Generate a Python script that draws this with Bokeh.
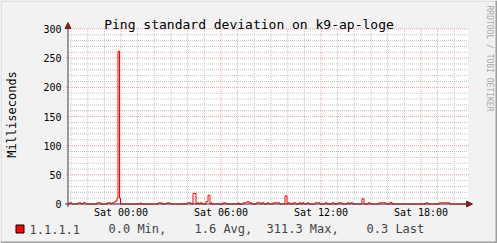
import math
from bokeh.plotting import figure
from bokeh.models import Label, Arrow, NormalHead
from bokeh.embed import file_html
from bokeh.resources import INLINE

# ---- data (hours relative to Sat 00:00, values in ms) ----
title_text = "Ping standard deviation on k9-ap-loge"
y_label = "Milliseconds"
x_tick_hours = [0, 6, 12, 18]
x_tick_labels = ["Sat 00:00", "Sat 06:00", "Sat 12:00", "Sat 18:00"]
y_ticks = [0, 50, 100, 150, 200, 250, 300]
y_tick_labels = ["0", "50", "100", "150", "200", "250", "300"]

spike_start = [-3.12, -2.58, -2.28, -1.44, -0.84, -0.54, -0.36, -0.24, -0.18, -0.09,
               1.14, 2.22, 2.76, 3.96, 4.32, 4.56, 4.74, 5.10, 5.22, 5.40,
               6.12, 7.02, 7.32, 7.56, 7.68, 8.10, 8.46, 8.76, 9.12, 9.84,
               10.02, 10.32, 10.68, 10.86, 11.16, 11.64, 12.24, 12.66, 13.02, 13.56,
               13.74, 14.46, 14.82, 15.48, 16.14, 18.30, 19.08]
spike_end = [-2.94, -2.40, -2.10, -1.20, -0.60, -0.36, -0.24, -0.18, -0.09, -0.03,
             1.20, 2.46, 2.94, 4.20, 4.50, 4.68, 4.86, 5.22, 5.34, 5.46,
             6.30, 7.08, 7.56, 7.68, 7.86, 8.40, 8.58, 8.88, 9.54, 9.96,
             10.14, 10.50, 10.80, 10.98, 11.28, 11.94, 12.36, 12.78, 13.26, 13.68,
             13.92, 14.58, 14.94, 15.90, 16.26, 18.42, 19.74]
spike_ms = [2, 2, 2, 2, 2, 2, 5, 10, 262, 10,
            2, 2, 2, 2, 18, 2, 2, 4, 15, 2,
            2, 2, 2, 4, 2, 2, 2, 2, 2, 14,
            2, 2, 2, 2, 2, 2, 2, 2, 2, 2,
            2, 9, 2, 2, 3, 2, 2]

series_name = "1.1.1.1"
stat_values = [0.0, 1.6, 311.3, 0.3]
stat_names = ["Min,", "Avg,", "Max,", "Last"]

# ---- geometry (pixels) ----
W, H = 497, 243
FL, FR, FT, FB = 67.5, 467.5, 28.5, 203.5
X0, X1 = -3.18, 20.82
Y0, Y1 = 0, 300

def dx(px):
    return X0 + (px - FL) / (FR - FL) * (X1 - X0)

def dy(py):
    return Y0 + (FB - py) / (FB - FT) * (Y1 - Y0)

# step series built from the spikes
xs, ys = [X0], [0]
for s, e, v in zip(spike_start, spike_end, spike_ms):
    if abs(xs[-1] - s) < 1e-9:
        ys[-1] = v
    else:
        xs.append(s); ys.append(v)
    xs.append(e); ys.append(0)
xs.append(X1); ys.append(0)

MONO = "DejaVu Sans Mono"
p = figure(width=W, height=H, x_range=(dx(0), dx(W)), y_range=(dy(H), dy(0)),
           output_backend="svg", toolbar_location=None, min_border=0,
           x_axis_type=None, y_axis_type=None)
p.background_fill_color = "#F2F2F2"
p.border_fill_color = "#F2F2F2"
p.outline_line_color = None
p.grid.visible = False

# outer shaded frame
p.quad(left=[dx(0), dx(0)], right=[dx(W), dx(1)], top=[dy(0), dy(0)], bottom=[dy(1), dy(H)],
       fill_color="#CFCFCF", line_color=None)
p.quad(left=[dx(0), dx(W - 2)], right=[dx(W), dx(W)], top=[dy(H - 2), dy(0)], bottom=[dy(H), dy(H)],
       fill_color="#9E9E9E", line_color=None)

# canvas
p.quad(left=[X0], right=[X1], bottom=[Y0], top=[Y1], fill_color="#FFFFFF", line_color=None)

minor_col = "#C4C4C4"
major_col = "#EBA3A3"

minor_h = [h for h in range(-3, 21) if h % 6]
minor_v = [v for v in range(0, 301, 10) if v % 50]
p.segment(x0=minor_h, x1=minor_h, y0=[Y0] * len(minor_h), y1=[Y1] * len(minor_h),
          line_color=minor_col, line_dash="1 1", line_width=1)
p.segment(x0=[X0] * len(minor_v), x1=[X1] * len(minor_v), y0=minor_v, y1=minor_v,
          line_color=minor_col, line_dash="1 1", line_width=1)
p.segment(x0=x_tick_hours, x1=x_tick_hours, y0=[dy(FB + 2)] * 4, y1=[Y1] * 4,
          line_color=major_col, line_dash="1 1", line_width=1)
p.segment(x0=[dx(FL - 2)] * len(y_ticks), x1=[dx(FR + 2)] * len(y_ticks), y0=y_ticks, y1=y_ticks,
          line_color=major_col, line_dash="1 1", line_width=1)

# data line
p.step(xs, ys, mode="after", line_color="#FF0000", line_width=1)

# axes with arrows
axis_col = "#3A3A3A"
arrow_col = "#801F1F"
p.add_layout(Arrow(end=NormalHead(size=6, fill_color=arrow_col, line_color=arrow_col),
                   x_start=dx(FL - 3), y_start=0, x_end=dx(472), y_end=0,
                   line_color=axis_col, line_width=1))
p.add_layout(Arrow(end=NormalHead(size=6, fill_color=arrow_col, line_color=arrow_col),
                   x_start=dx(FL), y_start=dy(FB + 3), x_end=dx(FL), y_end=dy(22),
                   line_color=axis_col, line_width=1))

# tick labels
p.text(x=x_tick_hours, y=[dy(206)] * 4, text=x_tick_labels, text_font={"value": MONO},
       text_font_size="10px", text_align="center", text_baseline="top", text_color="#000000")
p.text(x=[dx(61)] * len(y_ticks), y=y_ticks, text=y_tick_labels, text_font={"value": MONO},
       text_font_size="10px", text_align="right", text_baseline="middle", text_color="#000000")

# title
p.add_layout(Label(x=dx(W / 2), y=dy(23.5), text=title_text, text_font=MONO,
                   text_font_size="13px", text_align="center",
                   text_baseline="alphabetic", text_color="#000000"))
# y label
p.add_layout(Label(x=dx(11.5), y=dy(114), text=y_label, text_font=MONO,
                   text_font_size="12px", text_align="center",
                   text_baseline="middle", angle=math.pi / 2,
                   text_color="#000000"))
# watermark
p.add_layout(Label(x=dx(488.5), y=dy(5), text="RRDTOOL / TOBI OETIKER", text_font=MONO,
                   text_font_size="8px", text_align="left",
                   text_baseline="middle", angle=-math.pi / 2,
                   text_color="#A8A8A8"))

# legend
p.quad(left=[dx(15.5)], right=[dx(23.5)], top=[dy(224.5)], bottom=[dy(232.5)],
       fill_color="#FF0000", line_color="#000000", line_width=1)
p.add_layout(Label(x=dx(29), y=dy(228.8), text=series_name, text_font=MONO,
                   text_font_size="12px", text_baseline="middle"))
stat_x = [108, 194, 266, 366]
for sx, v, n in zip(stat_x, stat_values, stat_names):
    p.add_layout(Label(x=dx(sx), y=dy(228.8), text=f"{v:.1f} {n}", text_font=MONO,
                       text_font_size="12px", text_baseline="middle"))

open("out.html", "w").write(file_html(p, INLINE))
